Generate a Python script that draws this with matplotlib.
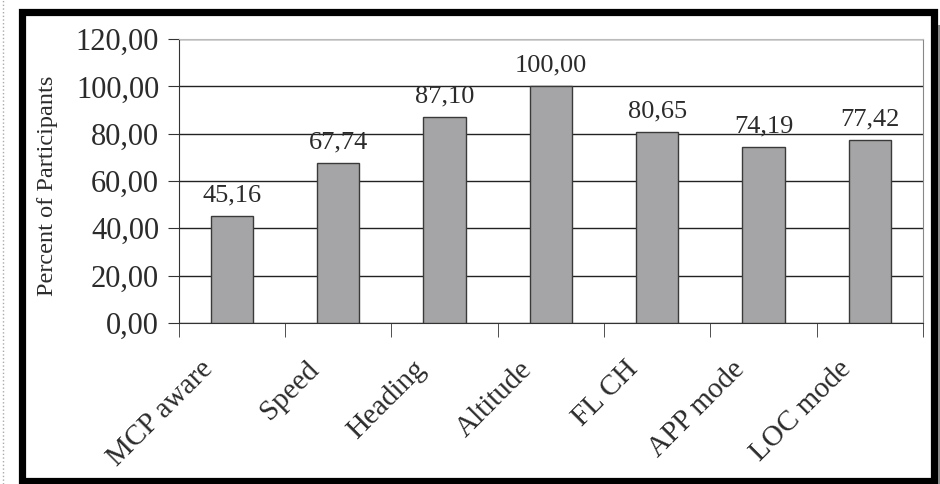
import matplotlib
matplotlib.use("Agg")
from matplotlib import pyplot as plt
from matplotlib.patches import Rectangle
from matplotlib.lines import Line2D
from matplotlib.transforms import ScaledTranslation
import numpy as np

categories = ["MCP aware", "Speed", "Heading", "Altitude", "FL CH", "APP mode", "LOC mode"]
percents = [45.16, 67.74, 87.10, 100.00, 80.65, 74.19, 77.42]
yticks = [0, 20, 40, 60, 80, 100, 120]

plt.rcParams['font.family'] = ['Liberation Serif', 'DejaVu Serif']
txt = "#2b2b2b"

fig = plt.figure(figsize=(9.4, 4.84), dpi=100)
ax = fig.add_axes([0.190, 0.333, 0.792, 0.586])

x = np.arange(len(categories))
bars = ax.bar(x, percents, width=0.4, color="#a5a5a7", edgecolor="#3a3a3a", linewidth=1.0, zorder=3)

for bar, v in zip(bars, percents):
    ax.annotate(f"{v:.2f}".replace(".", ","), (bar.get_x() + bar.get_width() / 2, v),
                xytext=(0, 7), textcoords="offset points", ha="center", va="bottom",
                fontsize=19, color=txt)

ax.set_xlim(-0.5, len(categories) - 0.5)
ax.set_ylim(0, 120)
ax.set_yticks(yticks)
ax.set_yticklabels([f"{t:.2f}".replace(".", ",") for t in yticks], fontsize=22, color=txt)
ax.yaxis.grid(True, color="#222222", linewidth=1.0, zorder=0)
ax.set_axisbelow(True)

ax.set_xticks(x)
ax.set_xticklabels(categories, rotation=45, ha="right", rotation_mode="anchor", fontsize=21, color=txt)
ax.tick_params(axis="x", length=0, pad=24)
shift = ScaledTranslation(-32 / 100, 0, fig.dpi_scale_trans)
for lab in ax.get_xticklabels():
    lab.set_transform(lab.get_transform() + shift)
ax.set_xticks(np.arange(-0.5, len(categories), 1.0), minor=True)
ax.tick_params(axis="x", which="minor", length=10, color="#333333")
ax.tick_params(axis="y", length=8, color="#333333", pad=6)

ax.set_ylabel("Percent of Participants", fontsize=17.5, color=txt, labelpad=13)
ax.yaxis.label.set_y(0.482)

ax.spines["top"].set_color("#bbbbbb")
ax.spines["right"].set_color("#888888")
ax.spines["left"].set_color("#333333")
ax.spines["bottom"].set_color("#333333")

# outer frame
fig.patches.append(Rectangle((21.5 / 940, 3.5 / 484), 912 / 940, 469 / 484, transform=fig.transFigure,
                             fill=False, edgecolor="black", linewidth=5.2))
fig.patches.append(Rectangle((938 / 940, 0), 2 / 940, 459 / 484, transform=fig.transFigure,
                             facecolor="#888888", edgecolor="none"))
fig.lines.append(Line2D([3 / 940, 3 / 940], [0, 1], transform=fig.transFigure,
                        color="#aaaaaa", linestyle=":", linewidth=1))

fig.savefig("out.png", dpi=100)
